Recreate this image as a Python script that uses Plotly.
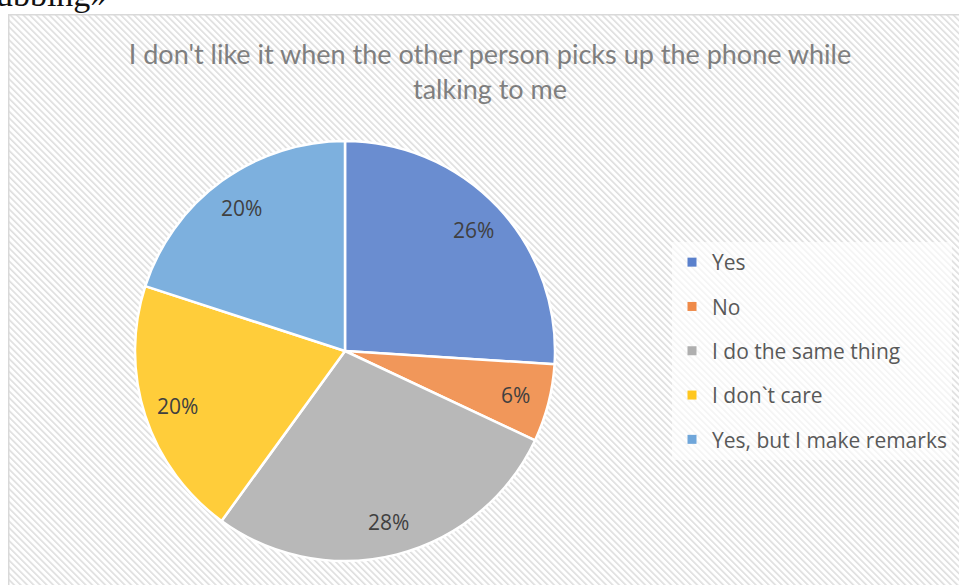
import base64
import math
import plotly.graph_objects as go

# ---------------- data ----------------
labels = ["Yes", "No", "I do the same thing", "I don`t care", "Yes, but I make remarks"]
values = [26, 6, 28, 20, 20]
slice_colors = ["#6A8DD0", "#F1975A", "#B8B8B8", "#FFCD3A", "#7DB0DE"]
legend_colors = ["#5A80CC", "#EF8A48", "#AFAFAF", "#FFC71F", "#6FA6DA"]
title_text = "I don't like it when the other person picks up the phone while<br>talking to me"
page_word = "«Phubbing»"

# ---------------- layout constants ----------------
W, H = 959, 585
CX, CY, R = 345, 351, 210      # pie centre / radius (pixels)
FRAME_L, FRAME_T = 8, 14       # chart frame top-left (pixels)

def px_x(x):
    return x / W

def px_y(y):
    return 1 - y / H

# hatched background as an SVG pattern
fw, fh = W - FRAME_L, H - FRAME_T
svg = (
    f"<svg xmlns='http://www.w3.org/2000/svg' width='{fw}' height='{fh}'>"
    "<defs><pattern id='p' width='4.6' height='4.6' patternUnits='userSpaceOnUse' "
    "patternTransform='rotate(-45)'><rect width='1.6' height='4.6' fill='#dedede'/></pattern></defs>"
    "<rect width='100%' height='100%' fill='#ffffff'/>"
    "<rect width='100%' height='100%' fill='url(#p)'/></svg>"
)
svg_uri = "data:image/svg+xml;base64," + base64.b64encode(svg.encode()).decode()

fig = go.Figure()

fig.add_trace(go.Pie(
    labels=labels,
    values=values,
    sort=False,
    direction="clockwise",
    rotation=0,
    marker=dict(colors=slice_colors, line=dict(color="white", width=2.5)),
    textinfo="none",
    showlegend=False,
    domain=dict(x=[px_x(CX - R), px_x(CX + R)], y=[px_y(CY + R), px_y(CY - R)]),
    hovertemplate="%{label}: %{percent}<extra></extra>",
))

# legend entries (one group per label for spacing control)
for lab, col in zip(labels, legend_colors):
    fig.add_trace(go.Scatter(
        x=[None], y=[None], mode="markers", name=lab, legendgroup=lab,
        marker=dict(symbol="square", size=9, color=col),
        showlegend=True, hoverinfo="skip",
    ))

# percentage labels, positioned from the values
total = sum(values)
annotations = []
cum = 0
for v in values:
    mid = (cum + v / 2) / total * 2 * math.pi
    cum += v
    lx = CX + 0.84 * R * math.sin(mid)
    ly = CY - 0.84 * R * math.cos(mid)
    annotations.append(dict(
        x=px_x(lx), y=px_y(ly), xref="paper", yref="paper",
        text=f"{round(v / total * 100)}%", showarrow=False,
        font=dict(family="Open Sans", size=21, color="#404040"),
        xanchor="center", yanchor="middle",
    ))

# clipped word from the page above the chart
annotations.append(dict(
    x=px_x(109), y=px_y(15), xref="paper", yref="paper",
    text=page_word, showarrow=False, xanchor="right", yanchor="bottom",
    font=dict(family="Liberation Serif", size=34, color="#111111"),
))

fig.update_layout(
    width=W, height=H,
    margin=dict(l=0, r=0, t=0, b=0),
    paper_bgcolor="white",
    plot_bgcolor="rgba(0,0,0,0)",
    xaxis=dict(visible=False),
    yaxis=dict(visible=False),
    title=dict(
        text=title_text, x=px_x(490), xanchor="center", y=px_y(64), yanchor="top",
        font=dict(family="Lato", size=27, color="#7F7F7F"),
    ),
    legend=dict(
        x=px_x(672), xanchor="left", y=px_y(242), yanchor="top",
        bgcolor="rgba(255,255,255,0.65)", borderwidth=0,
        font=dict(family="Open Sans", size=21, color="#595959"),
        tracegroupgap=14, itemsizing="trace",
    ),
    images=[dict(
        source=svg_uri, xref="paper", yref="paper",
        x=px_x(FRAME_L), y=px_y(FRAME_T), sizex=fw / W, sizey=fh / H,
        xanchor="left", yanchor="top", sizing="stretch", layer="below",
    )],
    shapes=[dict(
        type="rect", xref="paper", yref="paper",
        x0=px_x(FRAME_L + 0.75), y0=px_y(H + 5), x1=px_x(W + 5), y1=px_y(FRAME_T + 0.75),
        line=dict(color="#D9D9D9", width=1.5), fillcolor="rgba(0,0,0,0)", layer="below",
    )],
    annotations=annotations,
    hovermode="closest",
)

fig.write_html(
    "out.html",
    config={"displayModeBar": False},
    post_script="document.body.style.margin='0';document.body.style.overflow='hidden';",
)
